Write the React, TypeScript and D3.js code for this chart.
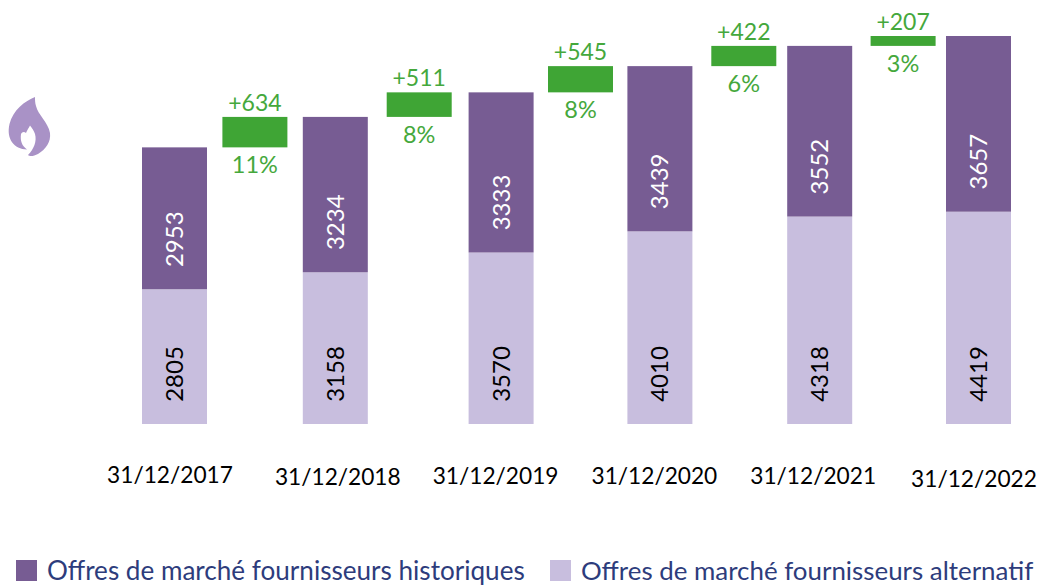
import React from "react";
import * as d3 from "d3";

const periods = ["31/12/2017", "31/12/2018", "31/12/2019", "31/12/2020", "31/12/2021", "31/12/2022"];
const alternatifs = [2805, 3158, 3570, 4010, 4318, 4419];
const historiques = [2953, 3234, 3333, 3439, 3552, 3657];
const deltaLabels = ["+634", "+511", "+545", "+422", "+207"];
const deltaPercents = ["11%", "8%", "8%", "6%", "3%"];
const legendLabels = ["Offres de marché fournisseurs historiques", "Offres de marché fournisseurs alternatif"];

// Layout: the reference is hand-placed, so its columns depart slightly from an even grid.
const barNudge = [0, 0, 5, 3, 2, 0];
const gapNudge = [0, 1, 0, 4, 4];
const dateDx = [-4.5, 2.5, -5.5, -5.5, -6.5, -4.5];
const dateY = [483, 485, 484, 484, 484, 487];

const W = 1041;
const H = 586;
const FONT = "Lato, 'Noto Sans', sans-serif";
const DARK = "#775c93";
const LIGHT = "#c8bede";
const GREEN = "#3fa535";
const GREEN_TEXT = "#45a83c";
const NAVY = "#2d3c7c";

export default function App() {
  const x = d3.scalePoint<string>().domain(periods).range([142, 946]);
  const y = d3.scaleLinear().domain([0, 8076]).range([424, 36]);
  const barW = 65;
  const left = (i: number) => (x(periods[i]) as number) + barNudge[i];
  const totals = alternatifs.map((v, i) => v + historiques[i]);
  const labelSize = 24;
  const labelRise = 50;

  return (
    <svg width={W} height={H} style={{ position: "absolute", left: 0, top: 0, background: "#fff" }} fontFamily={FONT}>
      <path
        d="M35 97 C25 101 13 110 9.500 124 C6 139 14 149 27 149.500 C22 146 20 141 21 134 C22 132 24 131 26 133 C27 130 29 128 30 125.500 C32 128 34 131 35 134 C37 141 34 149 28 155 C30 157 34 156 38 154 C46 149 51 142 50 133 C48 122 38 115 36 106 C35 103 35 100 35 97 Z"
        fill="#a992c6"
      />
      {periods.map((p, i) => {
        const cx = left(i) + barW / 2;
        const yAlt = y(alternatifs[i]);
        const yTot = y(totals[i]);
        return (
          <g key={p}>
            <rect x={left(i)} y={yAlt} width={barW} height={y(0) - yAlt} fill={LIGHT} />
            <rect x={left(i)} y={yTot} width={barW} height={yAlt - yTot} fill={DARK} />
            <text transform={`translate(${cx},${y(0) - labelRise}) rotate(-90)`} textAnchor="middle" dy="0.35em" fontSize={labelSize} fill="#000">
              {alternatifs[i]}
            </text>
            <text transform={`translate(${cx},${yAlt - labelRise}) rotate(-90)`} textAnchor="middle" dy="0.35em" fontSize={labelSize} fill="#fff">
              {historiques[i]}
            </text>
            <text x={cx + dateDx[i]} y={dateY[i]} textAnchor="middle" fontSize={22.7} fill="#000">
              {p}
            </text>
          </g>
        );
      })}
      {deltaLabels.map((label, i) => {
        const gx = (left(i) + left(i + 1)) / 2 + gapNudge[i];
        const top = y(totals[i + 1]);
        const bottom = y(totals[i]);
        return (
          <g key={label}>
            <rect x={gx} y={top} width={barW} height={bottom - top} fill={GREEN} />
            <text x={gx + barW / 2} y={top - 6} textAnchor="middle" fontSize={23} fill={GREEN_TEXT}>
              {label}
            </text>
            <text x={gx + barW / 2} y={bottom + 26} textAnchor="middle" fontSize={23.5} fill={GREEN_TEXT}>
              {deltaPercents[i]}
            </text>
          </g>
        );
      })}
      {legendLabels.map((label, i) => {
        const lx = i === 0 ? 16 : 550;
        return (
          <g key={label}>
            <rect x={lx} y={560} width={21} height={21} fill={i === 0 ? DARK : LIGHT} />
            <text x={lx + 31} y={580} fontSize={i === 0 ? 26.1 : 25.9} fill={NAVY}>
              {label}
            </text>
          </g>
        );
      })}
    </svg>
  );
}
